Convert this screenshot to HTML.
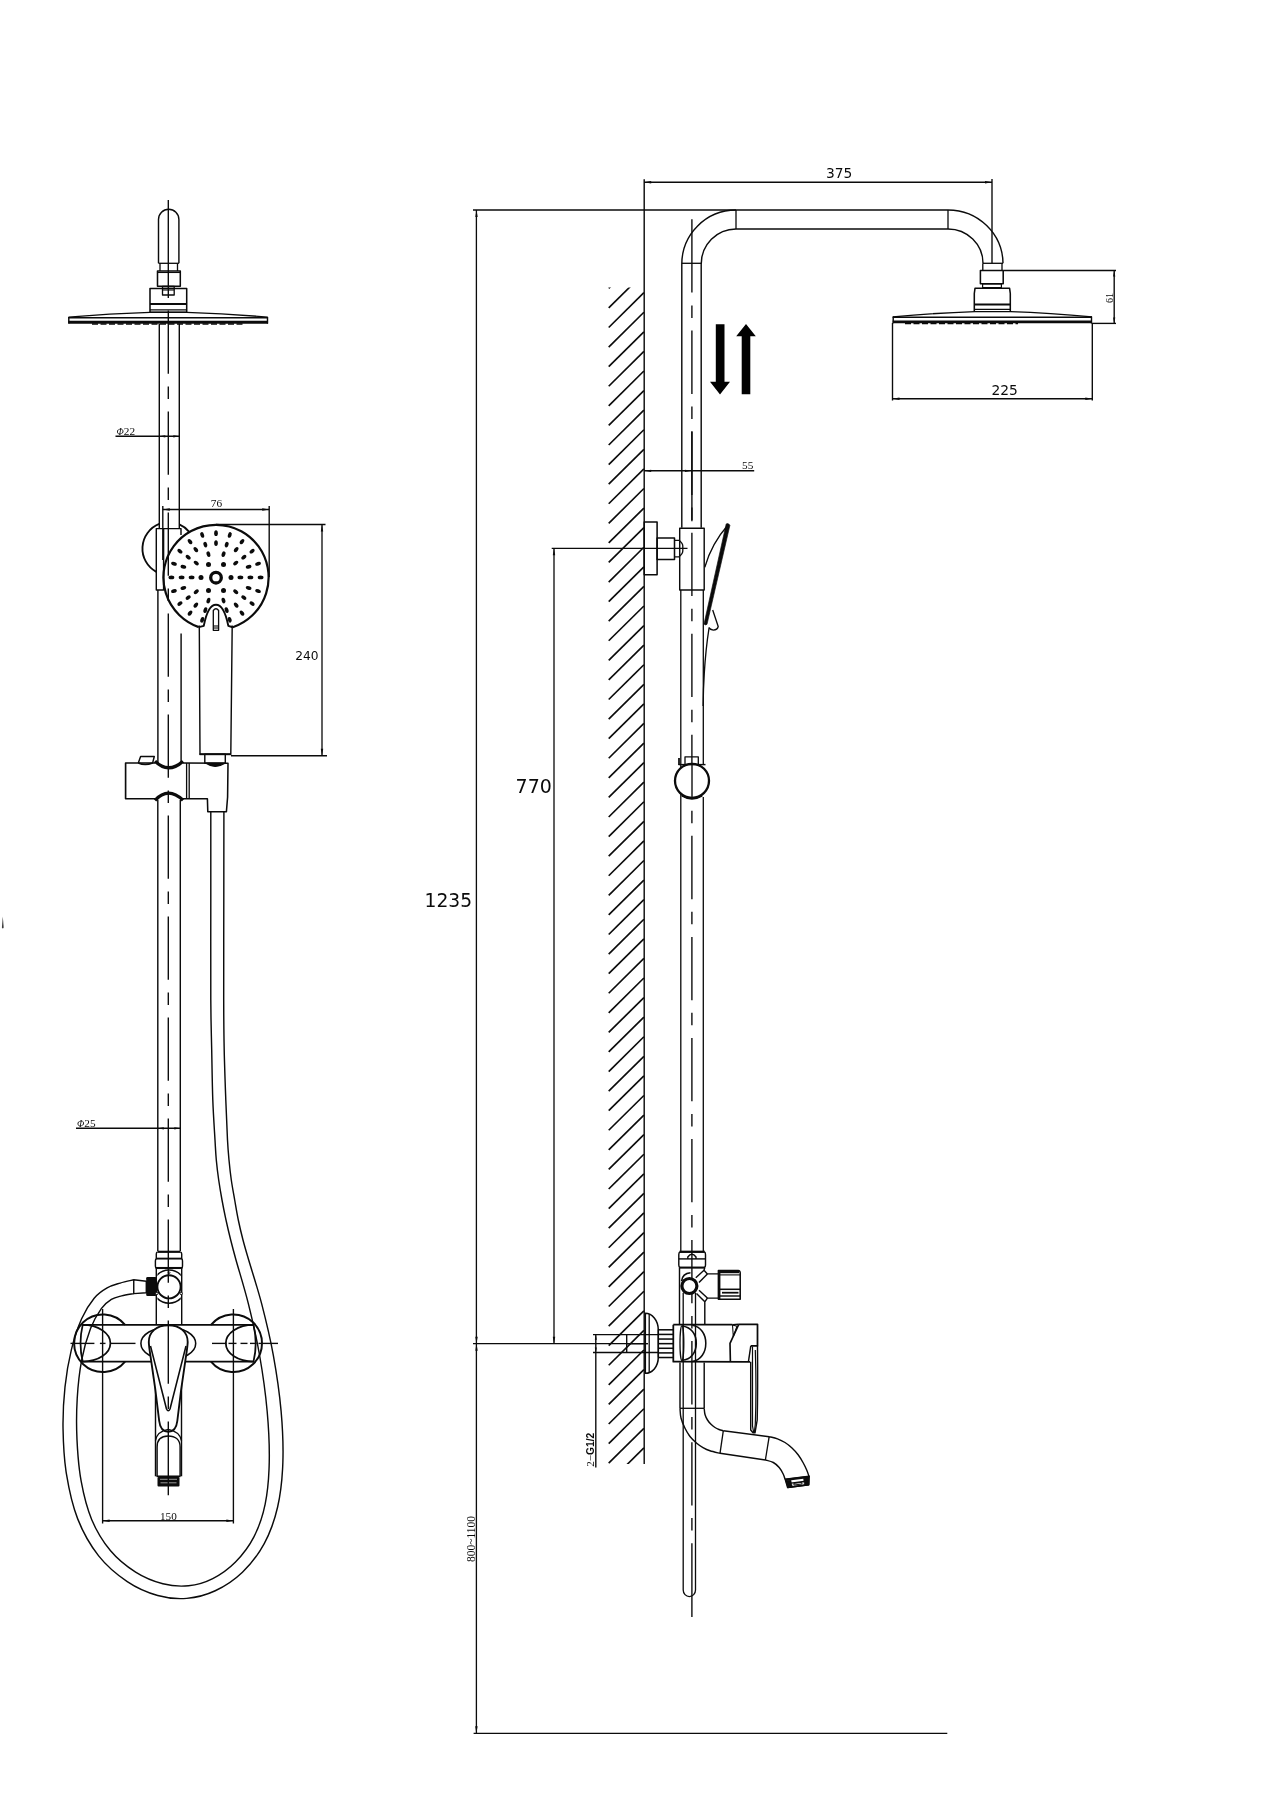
<!DOCTYPE html>
<html><head><meta charset="utf-8"><title>Shower column dimensions</title>
<style>html,body{margin:0;padding:0;background:#fff}svg{display:block}</style></head>
<body><svg width="1272" height="1800" viewBox="0 0 1272 1800" fill="none" stroke="#0b0b0b" stroke-linecap="butt" stroke-linejoin="round">
<rect x="0" y="0" width="1272" height="1800" fill="#fff" stroke="none"/>
<g opacity="0.999">
<path d="M158.5 263.3 L158.5 219.5 A10.2 10.2 0 0 1 178.9 219.5 L178.9 263.3" stroke-width="1.43" fill="none" />
<line x1="158.5" y1="263.3" x2="178.9" y2="263.3" stroke-width="1.32" />
<line x1="160" y1="263.3" x2="160" y2="271" stroke-width="1.32" />
<line x1="177.5" y1="263.3" x2="177.5" y2="271" stroke-width="1.32" />
<rect x="157.5" y="271" width="22.8" height="15.2" stroke-width="1.54" fill="none"/>
<line x1="157.5" y1="272.5" x2="180.3" y2="272.5" stroke-width="1.1" />
<rect x="162.5" y="286.5" width="11.7" height="8.5" stroke-width="1.32" fill="none"/>
<line x1="162.5" y1="290" x2="174.2" y2="290" stroke-width="1.1" />
<rect x="150" y="288.5" width="36.7" height="23.8" stroke-width="1.54" fill="none"/>
<line x1="150" y1="304" x2="186.7" y2="304" stroke-width="1.98" />
<line x1="150" y1="309.9" x2="186.7" y2="309.9" stroke-width="1.1" />
<path d="M68.5 317.2 Q110 313.5 150 312.3 L186.7 312.3 Q226 313.5 267.8 317.2" stroke-width="1.32" fill="none" />
<line x1="68.3" y1="317.7" x2="268" y2="317.7" stroke-width="1.54" />
<line x1="68.3" y1="322.3" x2="268" y2="322.3" stroke-width="2.86" />
<line x1="68.8" y1="317" x2="68.8" y2="323.6" stroke-width="1.43" />
<line x1="267.5" y1="317" x2="267.5" y2="323.6" stroke-width="1.43" />
<line x1="92" y1="324" x2="244" y2="324" stroke-width="1.32" stroke-dasharray="6 2.5"/>
<line x1="159.3" y1="324" x2="159.3" y2="528.6" stroke-width="1.43" />
<line x1="157.9" y1="590" x2="157.9" y2="763" stroke-width="1.43" />
<line x1="179.3" y1="324" x2="179.3" y2="528.6" stroke-width="1.43" />
<line x1="181.1" y1="633.5" x2="181.1" y2="762" stroke-width="1.43" />
<line x1="168.3" y1="200" x2="168.3" y2="298" stroke-width="1.38" />
<line x1="168.3" y1="310.5" x2="168.3" y2="373.8" stroke-width="1.38" />
<line x1="168.3" y1="386.45" x2="168.3" y2="398.95" stroke-width="1.38" />
<line x1="168.3" y1="411.5" x2="168.3" y2="474.8" stroke-width="1.38" />
<line x1="168.3" y1="487.45" x2="168.3" y2="499.95" stroke-width="1.38" />
<line x1="168.3" y1="512.5" x2="168.3" y2="575.8" stroke-width="1.38" />
<line x1="168.3" y1="588.45" x2="168.3" y2="600.95" stroke-width="1.38" />
<line x1="168.3" y1="613.5" x2="168.3" y2="676.8" stroke-width="1.38" />
<line x1="168.3" y1="689.45" x2="168.3" y2="701.95" stroke-width="1.38" />
<line x1="168.3" y1="714.5" x2="168.3" y2="777.8" stroke-width="1.38" />
<line x1="168.3" y1="790.45" x2="168.3" y2="802.95" stroke-width="1.38" />
<line x1="168.3" y1="815.5" x2="168.3" y2="878.8" stroke-width="1.38" />
<line x1="168.3" y1="891.45" x2="168.3" y2="903.95" stroke-width="1.38" />
<line x1="168.3" y1="916.5" x2="168.3" y2="979.8" stroke-width="1.38" />
<line x1="168.3" y1="992.45" x2="168.3" y2="1004.95" stroke-width="1.38" />
<line x1="168.3" y1="1017.5" x2="168.3" y2="1080.8" stroke-width="1.38" />
<line x1="168.3" y1="1093.45" x2="168.3" y2="1105.95" stroke-width="1.38" />
<line x1="168.3" y1="1118.5" x2="168.3" y2="1181.8" stroke-width="1.38" />
<line x1="168.3" y1="1194.45" x2="168.3" y2="1206.95" stroke-width="1.38" />
<line x1="168.3" y1="1219.5" x2="168.3" y2="1252" stroke-width="1.38" />
<line x1="115.5" y1="436.3" x2="179.3" y2="436.3" stroke-width="1.38" />
<path d="M159.3 436.3 L165.3 435.2 L165.3 437.4 Z" fill="#0b0b0b" stroke="none"/>
<path d="M179.3 436.3 L173.3 437.4 L173.3 435.2 Z" fill="#0b0b0b" stroke="none"/>
<text x="116.5" y="434.6" font-size="11.3" font-family='"Liberation Serif",serif' text-anchor="start" fill="#0b0b0b" stroke="none" ><tspan font-size="9.5" font-style="italic">Φ</tspan>22</text>
<line x1="162.8" y1="506" x2="162.8" y2="560" stroke-width="1.38" />
<line x1="269.2" y1="506" x2="269.2" y2="577" stroke-width="1.38" />
<line x1="162.8" y1="509.5" x2="269.2" y2="509.5" stroke-width="1.38" />
<path d="M162.8 509.5 L169.8 508.3 L169.8 510.7 Z" fill="#0b0b0b" stroke="none"/>
<path d="M269.2 509.5 L262.2 510.7 L262.2 508.3 Z" fill="#0b0b0b" stroke="none"/>
<text x="216.5" y="507.3" font-size="11.3" font-family='"Liberation Serif",serif' text-anchor="middle" fill="#0b0b0b" stroke="none" >76</text>
<path d="M159.3 523.99 A26.4 26.4 0 0 0 156.3 571.83" stroke-width="1.87" fill="none" />
<path d="M179.3 524.36 A26.4 26.4 0 0 1 189.2 531.78" stroke-width="1.87" fill="none" />
<rect x="156.3" y="528.6" width="7.3" height="61.4" stroke-width="1.43" fill="none"/>
<path d="M163.6 528.6 L181 528.6 L181 535" stroke-width="1.43" fill="none" />
<line x1="216" y1="524.5" x2="325.5" y2="524.5" stroke-width="1.32" />
<line x1="231" y1="755.8" x2="327" y2="755.8" stroke-width="1.38" />
<line x1="322" y1="524.5" x2="322" y2="755.8" stroke-width="1.32" />
<path d="M322 524.5 L323.2 531.5 L320.8 531.5 Z" fill="#0b0b0b" stroke="none"/>
<path d="M322 755.8 L320.8 748.8 L323.2 748.8 Z" fill="#0b0b0b" stroke="none"/>
<text x="295.3" y="659.6" font-size="12.2" font-family='"DejaVu Sans","Liberation Sans",sans-serif' text-anchor="start" fill="#0b0b0b" stroke="none" >240</text>
<path d="M198.78 627.1 A52.6 52.6 0 1 1 232.76 627.26" stroke-width="2.2" fill="none" />
<path d="M198.78 627.1 L203.8 625.8 C206.5 612 210 604.8 216 604.8 C222 604.8 225.5 612 228.3 625.8 L232.76 627.26" stroke-width="1.87" fill="none" />
<path d="M213.3 630.3 L213.3 610.5 Q216 607 218.6 610.5 L218.6 630.3 Z" stroke-width="1.32" fill="none" />
<line x1="213.3" y1="626" x2="218.6" y2="626" stroke-width="1.1" />
<line x1="213.3" y1="628" x2="218.6" y2="628" stroke-width="1.1" />
<circle cx="216" cy="577.7" r="5.3" stroke-width="3.3" fill="none"/>
<circle cx="231" cy="577.4" r="2.5" stroke-width="0" fill="#0b0b0b"/>
<circle cx="223.5" cy="590.39" r="2.5" stroke-width="0" fill="#0b0b0b"/>
<circle cx="208.5" cy="590.39" r="2.5" stroke-width="0" fill="#0b0b0b"/>
<circle cx="201" cy="577.4" r="2.5" stroke-width="0" fill="#0b0b0b"/>
<circle cx="208.5" cy="564.41" r="2.5" stroke-width="0" fill="#0b0b0b"/>
<circle cx="223.5" cy="564.41" r="2.5" stroke-width="0" fill="#0b0b0b"/>
<ellipse cx="240.4" cy="577.4" rx="2.9" ry="1.85" stroke-width="0" fill="#0b0b0b" transform="rotate(0 240.4 577.4)" stroke="none"/>
<ellipse cx="250.4" cy="577.4" rx="2.9" ry="1.85" stroke-width="0" fill="#0b0b0b" transform="rotate(0 250.4 577.4)" stroke="none"/>
<ellipse cx="260.6" cy="577.4" rx="2.9" ry="1.85" stroke-width="0" fill="#0b0b0b" transform="rotate(0 260.6 577.4)" stroke="none"/>
<ellipse cx="248.62" cy="588" rx="2.9" ry="1.85" stroke-width="0" fill="#0b0b0b" transform="rotate(18 248.62 588)" stroke="none"/>
<ellipse cx="258.04" cy="591.06" rx="2.9" ry="1.85" stroke-width="0" fill="#0b0b0b" transform="rotate(18 258.04 591.06)" stroke="none"/>
<ellipse cx="235.74" cy="591.74" rx="2.9" ry="1.85" stroke-width="0" fill="#0b0b0b" transform="rotate(36 235.74 591.74)" stroke="none"/>
<ellipse cx="243.83" cy="597.62" rx="2.9" ry="1.85" stroke-width="0" fill="#0b0b0b" transform="rotate(36 243.83 597.62)" stroke="none"/>
<ellipse cx="252.08" cy="603.62" rx="2.9" ry="1.85" stroke-width="0" fill="#0b0b0b" transform="rotate(36 252.08 603.62)" stroke="none"/>
<ellipse cx="236.16" cy="605.15" rx="2.9" ry="1.85" stroke-width="0" fill="#0b0b0b" transform="rotate(54 236.16 605.15)" stroke="none"/>
<ellipse cx="241.98" cy="613.16" rx="2.9" ry="1.85" stroke-width="0" fill="#0b0b0b" transform="rotate(54 241.98 613.16)" stroke="none"/>
<ellipse cx="223.54" cy="600.61" rx="2.9" ry="1.85" stroke-width="0" fill="#0b0b0b" transform="rotate(72 223.54 600.61)" stroke="none"/>
<ellipse cx="226.63" cy="610.12" rx="2.9" ry="1.85" stroke-width="0" fill="#0b0b0b" transform="rotate(72 226.63 610.12)" stroke="none"/>
<ellipse cx="229.78" cy="619.82" rx="2.9" ry="1.85" stroke-width="0" fill="#0b0b0b" transform="rotate(72 229.78 619.82)" stroke="none"/>
<ellipse cx="208.46" cy="600.61" rx="2.9" ry="1.85" stroke-width="0" fill="#0b0b0b" transform="rotate(108 208.46 600.61)" stroke="none"/>
<ellipse cx="205.37" cy="610.12" rx="2.9" ry="1.85" stroke-width="0" fill="#0b0b0b" transform="rotate(108 205.37 610.12)" stroke="none"/>
<ellipse cx="202.22" cy="619.82" rx="2.9" ry="1.85" stroke-width="0" fill="#0b0b0b" transform="rotate(108 202.22 619.82)" stroke="none"/>
<ellipse cx="195.84" cy="605.15" rx="2.9" ry="1.85" stroke-width="0" fill="#0b0b0b" transform="rotate(126 195.84 605.15)" stroke="none"/>
<ellipse cx="190.02" cy="613.16" rx="2.9" ry="1.85" stroke-width="0" fill="#0b0b0b" transform="rotate(126 190.02 613.16)" stroke="none"/>
<ellipse cx="196.26" cy="591.74" rx="2.9" ry="1.85" stroke-width="0" fill="#0b0b0b" transform="rotate(144 196.26 591.74)" stroke="none"/>
<ellipse cx="188.17" cy="597.62" rx="2.9" ry="1.85" stroke-width="0" fill="#0b0b0b" transform="rotate(144 188.17 597.62)" stroke="none"/>
<ellipse cx="179.92" cy="603.62" rx="2.9" ry="1.85" stroke-width="0" fill="#0b0b0b" transform="rotate(144 179.92 603.62)" stroke="none"/>
<ellipse cx="183.38" cy="588" rx="2.9" ry="1.85" stroke-width="0" fill="#0b0b0b" transform="rotate(162 183.38 588)" stroke="none"/>
<ellipse cx="173.96" cy="591.06" rx="2.9" ry="1.85" stroke-width="0" fill="#0b0b0b" transform="rotate(162 173.96 591.06)" stroke="none"/>
<ellipse cx="191.6" cy="577.4" rx="2.9" ry="1.85" stroke-width="0" fill="#0b0b0b" transform="rotate(180 191.6 577.4)" stroke="none"/>
<ellipse cx="181.6" cy="577.4" rx="2.9" ry="1.85" stroke-width="0" fill="#0b0b0b" transform="rotate(180 181.6 577.4)" stroke="none"/>
<ellipse cx="171.4" cy="577.4" rx="2.9" ry="1.85" stroke-width="0" fill="#0b0b0b" transform="rotate(180 171.4 577.4)" stroke="none"/>
<ellipse cx="183.38" cy="566.8" rx="2.9" ry="1.85" stroke-width="0" fill="#0b0b0b" transform="rotate(198 183.38 566.8)" stroke="none"/>
<ellipse cx="173.96" cy="563.74" rx="2.9" ry="1.85" stroke-width="0" fill="#0b0b0b" transform="rotate(198 173.96 563.74)" stroke="none"/>
<ellipse cx="196.26" cy="563.06" rx="2.9" ry="1.85" stroke-width="0" fill="#0b0b0b" transform="rotate(216 196.26 563.06)" stroke="none"/>
<ellipse cx="188.17" cy="557.18" rx="2.9" ry="1.85" stroke-width="0" fill="#0b0b0b" transform="rotate(216 188.17 557.18)" stroke="none"/>
<ellipse cx="179.92" cy="551.18" rx="2.9" ry="1.85" stroke-width="0" fill="#0b0b0b" transform="rotate(216 179.92 551.18)" stroke="none"/>
<ellipse cx="195.84" cy="549.65" rx="2.9" ry="1.85" stroke-width="0" fill="#0b0b0b" transform="rotate(234 195.84 549.65)" stroke="none"/>
<ellipse cx="190.02" cy="541.64" rx="2.9" ry="1.85" stroke-width="0" fill="#0b0b0b" transform="rotate(234 190.02 541.64)" stroke="none"/>
<ellipse cx="208.46" cy="554.19" rx="2.9" ry="1.85" stroke-width="0" fill="#0b0b0b" transform="rotate(252 208.46 554.19)" stroke="none"/>
<ellipse cx="205.37" cy="544.68" rx="2.9" ry="1.85" stroke-width="0" fill="#0b0b0b" transform="rotate(252 205.37 544.68)" stroke="none"/>
<ellipse cx="202.22" cy="534.98" rx="2.9" ry="1.85" stroke-width="0" fill="#0b0b0b" transform="rotate(252 202.22 534.98)" stroke="none"/>
<ellipse cx="216" cy="543.1" rx="2.9" ry="1.85" stroke-width="0" fill="#0b0b0b" transform="rotate(270 216 543.1)" stroke="none"/>
<ellipse cx="216" cy="533.2" rx="2.9" ry="1.85" stroke-width="0" fill="#0b0b0b" transform="rotate(270 216 533.2)" stroke="none"/>
<ellipse cx="223.54" cy="554.19" rx="2.9" ry="1.85" stroke-width="0" fill="#0b0b0b" transform="rotate(288 223.54 554.19)" stroke="none"/>
<ellipse cx="226.63" cy="544.68" rx="2.9" ry="1.85" stroke-width="0" fill="#0b0b0b" transform="rotate(288 226.63 544.68)" stroke="none"/>
<ellipse cx="229.78" cy="534.98" rx="2.9" ry="1.85" stroke-width="0" fill="#0b0b0b" transform="rotate(288 229.78 534.98)" stroke="none"/>
<ellipse cx="236.16" cy="549.65" rx="2.9" ry="1.85" stroke-width="0" fill="#0b0b0b" transform="rotate(306 236.16 549.65)" stroke="none"/>
<ellipse cx="241.98" cy="541.64" rx="2.9" ry="1.85" stroke-width="0" fill="#0b0b0b" transform="rotate(306 241.98 541.64)" stroke="none"/>
<ellipse cx="235.74" cy="563.06" rx="2.9" ry="1.85" stroke-width="0" fill="#0b0b0b" transform="rotate(324 235.74 563.06)" stroke="none"/>
<ellipse cx="243.83" cy="557.18" rx="2.9" ry="1.85" stroke-width="0" fill="#0b0b0b" transform="rotate(324 243.83 557.18)" stroke="none"/>
<ellipse cx="252.08" cy="551.18" rx="2.9" ry="1.85" stroke-width="0" fill="#0b0b0b" transform="rotate(324 252.08 551.18)" stroke="none"/>
<ellipse cx="248.62" cy="566.8" rx="2.9" ry="1.85" stroke-width="0" fill="#0b0b0b" transform="rotate(342 248.62 566.8)" stroke="none"/>
<ellipse cx="258.04" cy="563.74" rx="2.9" ry="1.85" stroke-width="0" fill="#0b0b0b" transform="rotate(342 258.04 563.74)" stroke="none"/>
<path d="M199.3 625.6 L200 754.4 L230.8 754.4 L232.2 625.6" stroke-width="1.43" fill="none" />
<line x1="199.6" y1="754.2" x2="231" y2="754.2" stroke-width="1.98" />
<rect x="204.8" y="754.2" width="20.5" height="9" stroke-width="1.43" fill="none"/>
<path d="M206 763.3 Q215 769.5 225 763.3 Z" stroke-width="1.32" fill="#0b0b0b" />
<path d="M155.5 763 L125.6 763 L125.6 798.7 L155.5 798.7" stroke-width="1.65" fill="none" />
<path d="M182.6 763 L228 763.3 L227.6 797 L226.4 811.8 L207.8 811.8 L207.4 798.7 L182.6 798.7" stroke-width="1.54" fill="none" />
<line x1="186.6" y1="763" x2="186.6" y2="798.7" stroke-width="1.32" />
<line x1="189.2" y1="763" x2="189.2" y2="798.7" stroke-width="1.32" />
<path d="M138.3 763 L140.6 756.5 L154.3 756.5 L152.6 763 Q145 766 138.3 763" stroke-width="1.43" fill="none" />
<path d="M155 761.2 Q168.3 774.5 183 761.2" stroke-width="3.3" fill="none" />
<path d="M155 800.3 Q168.3 786 183 800.3" stroke-width="3.3" fill="none" />
<line x1="157.8" y1="800" x2="157.8" y2="1251" stroke-width="1.43" />
<line x1="180.3" y1="800" x2="180.3" y2="1251" stroke-width="1.43" />
<line x1="76" y1="1128.3" x2="180.3" y2="1128.3" stroke-width="1.38" />
<path d="M157.8 1128.3 L163.8 1127.2 L163.8 1129.4 Z" fill="#0b0b0b" stroke="none"/>
<path d="M180.3 1128.3 L174.3 1129.4 L174.3 1127.2 Z" fill="#0b0b0b" stroke="none"/>
<text x="77" y="1126.6" font-size="11.3" font-family='"Liberation Serif",serif' text-anchor="start" fill="#0b0b0b" stroke="none" ><tspan font-size="9.5" font-style="italic">Φ</tspan>25</text>
<path d="M223.9 812 C223.88 826.67 223.83 868.67 223.8 900 C223.77 931.33 223.63 975 223.7 1000 C223.77 1025 223.85 1033.33 224.2 1050 C224.55 1066.67 225.25 1085 225.8 1100 C226.35 1115 226.97 1130 227.5 1140 C228.03 1150 228.37 1153.33 229 1160 C229.63 1166.67 230.35 1173.33 231.3 1180 C232.25 1186.67 233.53 1193.33 234.7 1200 C235.87 1206.67 236.92 1213.33 238.3 1220 C239.68 1226.67 241.27 1233.33 243 1240 C244.73 1246.67 245.59 1249.39 248.7 1260 C251.81 1270.61 257.53 1287.83 261.63 1303.68 C265.73 1319.54 270.05 1337.27 273.3 1355.14 C276.54 1373.02 279.49 1392.99 281.08 1410.93 C282.67 1428.87 283.43 1446.78 282.85 1462.8 C282.28 1478.81 280.72 1493.55 277.62 1507.02 C274.52 1520.5 270.09 1532.8 264.23 1543.66 C258.37 1554.53 250.62 1564.36 242.45 1572.21 C234.29 1580.06 224.53 1586.39 215.25 1590.75 C205.97 1595.1 196.35 1597.58 186.76 1598.36 C177.17 1599.15 167.64 1598.25 157.72 1595.45 C147.8 1592.65 137.09 1588.15 127.25 1581.54 C117.4 1574.94 106.91 1566.27 98.65 1555.83 C90.39 1545.38 83.05 1532.48 77.69 1518.88 C72.33 1505.28 68.92 1489.24 66.47 1474.21 C64.03 1459.18 63.29 1443.21 63.04 1428.7 C62.79 1414.2 63.59 1400.32 64.98 1387.18 C66.36 1374.04 68.56 1361.25 71.34 1349.84 C74.11 1338.43 77.81 1327.34 81.62 1318.73 C85.42 1310.12 89.91 1303.33 94.16 1298.19 C98.41 1293.05 102.78 1290.42 107.12 1287.9 C111.46 1285.39 115.76 1284.43 120.2 1283.08 C124.64 1281.73 131.49 1280.35 133.75 1279.8" stroke-width="1.43" fill="none" />
<path d="M210.8 812 C210.8 826.67 210.8 868.67 210.8 900 C210.8 931.33 210.65 975 210.8 1000 C210.95 1025 211.37 1033.33 211.7 1050 C212.03 1066.67 212.25 1085 212.8 1100 C213.35 1115 214.42 1130 215 1140 C215.58 1150 215.68 1153.33 216.3 1160 C216.92 1166.67 217.75 1173.33 218.7 1180 C219.65 1186.67 220.78 1193.33 222 1200 C223.22 1206.67 224.55 1213.33 226 1220 C227.45 1226.67 229.03 1233.33 230.7 1240 C232.37 1246.67 233.06 1249.39 236 1260 C238.94 1270.61 244.41 1287.8 248.34 1303.67 C252.27 1319.55 256.43 1337.33 259.57 1355.25 C262.71 1373.17 265.55 1393.35 267.16 1411.21 C268.77 1429.06 269.58 1446.91 269.24 1462.38 C268.91 1477.85 267.72 1491.64 265.17 1504.04 C262.62 1516.45 258.87 1527.17 253.92 1536.82 C248.98 1546.47 242.36 1554.98 235.5 1561.93 C228.64 1568.88 220.57 1574.56 212.75 1578.54 C204.93 1582.51 196.88 1584.91 188.56 1585.78 C180.25 1586.65 171.7 1586.04 162.87 1583.76 C154.04 1581.48 144.35 1577.64 135.6 1572.1 C126.84 1566.56 117.65 1559.25 110.35 1550.51 C103.04 1541.78 96.61 1531.21 91.75 1519.7 C86.9 1508.19 83.66 1494.8 81.2 1481.46 C78.74 1468.12 77.65 1453.51 76.99 1439.65 C76.33 1425.79 76.44 1411.57 77.23 1398.28 C78.02 1384.99 79.51 1371.54 81.72 1359.91 C83.94 1348.29 87.26 1337.08 90.53 1328.52 C93.79 1319.97 97.83 1313.42 101.31 1308.58 C104.78 1303.73 107.99 1301.56 111.37 1299.44 C114.76 1297.32 117.89 1296.83 121.62 1295.85 C125.34 1294.88 131.73 1293.98 133.75 1293.6" stroke-width="1.43" fill="none" />
<path d="M133.75 1279.8 L146.3 1281.2 L146.3 1292.8 L133.75 1293.6 Z" stroke-width="1.43" fill="none" />
<rect x="146.2" y="1276.9" width="10.2" height="19.2" rx="1.3" fill="#0b0b0b" stroke="none"/>
<line x1="157.6" y1="1251.8" x2="180.3" y2="1251.8" stroke-width="2.2" />
<path d="M157.6 1251.8 Q156.3 1252.3 156.3 1254 L156.3 1258.5 M180.3 1251.8 Q181.7 1252.3 181.7 1254 L181.7 1258.5" stroke-width="1.43" fill="none" />
<line x1="156" y1="1258.6" x2="182" y2="1258.6" stroke-width="1.87" />
<path d="M156.3 1258.6 Q155.4 1259.2 155.4 1261 L155.4 1266 Q155.4 1267.6 156.3 1268 M181.7 1258.6 Q182.5 1259.2 182.5 1261 L182.5 1266 Q182.5 1267.6 181.7 1268" stroke-width="1.43" fill="none" />
<line x1="155.8" y1="1268" x2="182.2" y2="1268" stroke-width="2.09" />
<line x1="156.3" y1="1268" x2="156.3" y2="1324.5" stroke-width="1.43" />
<line x1="181.7" y1="1268" x2="181.7" y2="1324.5" stroke-width="1.43" />
<clipPath id="kc"><rect x="157.4" y="1266" width="23.4" height="42"/></clipPath>
<g clip-path="url(#kc)">
<circle cx="169" cy="1286.6" r="16.6" stroke-width="1.54" fill="none"/>
</g>
<circle cx="169" cy="1286.8" r="11.6" stroke-width="1.87" fill="none"/>
<circle cx="156.8" cy="1293.5" r="1.2" stroke-width="0.99" fill="#fff"/>
<circle cx="181.2" cy="1293.5" r="1.2" stroke-width="0.99" fill="#fff"/>
<circle cx="169.1" cy="1272.7" r="0.9" stroke-width="0.88" fill="#fff"/>
<line x1="82.7" y1="1324.9" x2="253.5" y2="1324.9" stroke-width="1.65" />
<line x1="82.7" y1="1361.6" x2="253.5" y2="1361.6" stroke-width="1.65" />
<path d="M82.7 1324.9 C98 1324.9 110.4 1333 110.4 1343.3 C110.4 1353.6 98 1361.6 82.7 1361.6 Q78.3 1343.3 82.7 1324.9 Z" stroke-width="1.76" fill="none" />
<path d="M253.5 1324.9 C238.2 1324.9 225.8 1333 225.8 1343.3 C225.8 1353.6 238.2 1361.6 253.5 1361.6 Q257.9 1343.3 253.5 1324.9 Z" stroke-width="1.76" fill="none" />
<path d="M125.1 1324.9 A28.8 28.8 0 1 0 125.1 1361.6" stroke-width="1.98" fill="none" />
<path d="M211 1324.9 A28.8 28.8 0 1 1 211 1361.6" stroke-width="1.98" fill="none" />
<line x1="70.5" y1="1343.4" x2="94.4" y2="1343.4" stroke-width="1.38" />
<line x1="99.9" y1="1343.4" x2="105.5" y2="1343.4" stroke-width="1.38" />
<line x1="111" y1="1343.4" x2="135.5" y2="1343.4" stroke-width="1.38" />
<line x1="212" y1="1343.4" x2="226.5" y2="1343.4" stroke-width="1.38" />
<line x1="228.5" y1="1343.4" x2="236.5" y2="1343.4" stroke-width="1.38" />
<line x1="240.5" y1="1343.4" x2="247.5" y2="1343.4" stroke-width="1.38" />
<line x1="250" y1="1343.4" x2="256.5" y2="1343.4" stroke-width="1.38" />
<line x1="258.5" y1="1343.4" x2="278" y2="1343.4" stroke-width="1.38" />
<line x1="102.6" y1="1309" x2="102.6" y2="1523.5" stroke-width="1.38" />
<line x1="233.4" y1="1309" x2="233.4" y2="1523.5" stroke-width="1.38" />
<line x1="102.6" y1="1520.8" x2="233.4" y2="1520.8" stroke-width="1.38" />
<path d="M102.6 1520.8 L109.6 1519.6 L109.6 1522 Z" fill="#0b0b0b" stroke="none"/>
<path d="M233.4 1520.8 L226.4 1522 L226.4 1519.6 Z" fill="#0b0b0b" stroke="none"/>
<text x="168.4" y="1519.6" font-size="11.2" font-family='"Liberation Serif",serif' text-anchor="middle" fill="#0b0b0b" stroke="none" >150</text>
<ellipse cx="168.3" cy="1343.5" rx="27.4" ry="16.3" stroke-width="1.54" fill="none"/>
<line x1="155.5" y1="1362" x2="155.5" y2="1476.3" stroke-width="1.43" />
<line x1="181.5" y1="1362" x2="181.5" y2="1476.3" stroke-width="1.43" />
<path d="M168.3 1325.2 C180 1325.2 187.7 1332 187.7 1342 C187.7 1350 183.5 1366 177.3 1421 C176.5 1428 173 1431.8 168.3 1431.8 C163.5 1431.8 160 1428 159.2 1421 C153 1366 148.8 1350 148.8 1342 C148.8 1332 156.5 1325.2 168.3 1325.2 Z" stroke-width="1.87" fill="#fff" />
<path d="M150.5 1346 L166.5 1409 Q168.3 1412.5 170 1409 L186 1346" stroke-width="1.54" fill="none" />
<path d="M155.5 1440.5 Q157 1431.5 168.2 1429.4 Q179.5 1431.5 181.5 1440.5" stroke-width="1.43" fill="none" />
<path d="M157.1 1476 L157.1 1447 C157.1 1440 161 1436 168.2 1436 C175.5 1436 180.1 1440 180.1 1447 L180.1 1476" stroke-width="1.43" fill="none" />
<line x1="156.4" y1="1476.3" x2="180.6" y2="1476.3" stroke-width="1.65" />
<rect x="157.5" y="1477" width="22" height="9.4" rx="1" fill="#0b0b0b" stroke="none"/>
<path d="M160 1479.3 L177 1479.3 M160.5 1482.8 L176.5 1482.8" stroke="#bbb" stroke-width="0.8"/>
<line x1="168.3" y1="1252" x2="168.3" y2="1282.8" stroke-width="1.38" />
<line x1="168.3" y1="1295.45" x2="168.3" y2="1307.95" stroke-width="1.38" />
<line x1="168.3" y1="1320.5" x2="168.3" y2="1383.8" stroke-width="1.38" />
<line x1="168.3" y1="1396.45" x2="168.3" y2="1408.95" stroke-width="1.38" />
<line x1="168.3" y1="1421.5" x2="168.3" y2="1495.3" stroke-width="1.38" />
<path d="M2.8 916.5 L3.7 927.5 Q2.8 929.6 1.9 927.5 Z" fill="#3a3a3a" stroke="none"/>
<clipPath id="hc"><rect x="607.6" y="287.5" width="37" height="1176.5"/></clipPath>
<g clip-path="url(#hc)">
<line x1="608.7" y1="288.34" x2="643.9" y2="253.54" stroke-width="1.65" />
<line x1="608.7" y1="307.92" x2="643.9" y2="273.12" stroke-width="1.65" />
<line x1="608.7" y1="327.5" x2="643.9" y2="292.7" stroke-width="1.65" />
<line x1="608.7" y1="347.08" x2="643.9" y2="312.28" stroke-width="1.65" />
<line x1="608.7" y1="366.66" x2="643.9" y2="331.86" stroke-width="1.65" />
<line x1="608.7" y1="386.24" x2="643.9" y2="351.44" stroke-width="1.65" />
<line x1="608.7" y1="405.82" x2="643.9" y2="371.02" stroke-width="1.65" />
<line x1="608.7" y1="425.4" x2="643.9" y2="390.6" stroke-width="1.65" />
<line x1="608.7" y1="444.98" x2="643.9" y2="410.18" stroke-width="1.65" />
<line x1="608.7" y1="464.56" x2="643.9" y2="429.76" stroke-width="1.65" />
<line x1="608.7" y1="484.14" x2="643.9" y2="449.34" stroke-width="1.65" />
<line x1="608.7" y1="503.72" x2="643.9" y2="468.92" stroke-width="1.65" />
<line x1="608.7" y1="523.3" x2="643.9" y2="488.5" stroke-width="1.65" />
<line x1="608.7" y1="542.88" x2="643.9" y2="508.08" stroke-width="1.65" />
<line x1="608.7" y1="562.46" x2="643.9" y2="527.66" stroke-width="1.65" />
<line x1="608.7" y1="582.04" x2="643.9" y2="547.24" stroke-width="1.65" />
<line x1="608.7" y1="601.62" x2="643.9" y2="566.82" stroke-width="1.65" />
<line x1="608.7" y1="621.2" x2="643.9" y2="586.4" stroke-width="1.65" />
<line x1="608.7" y1="640.78" x2="643.9" y2="605.98" stroke-width="1.65" />
<line x1="608.7" y1="660.36" x2="643.9" y2="625.56" stroke-width="1.65" />
<line x1="608.7" y1="679.94" x2="643.9" y2="645.14" stroke-width="1.65" />
<line x1="608.7" y1="699.52" x2="643.9" y2="664.72" stroke-width="1.65" />
<line x1="608.7" y1="719.1" x2="643.9" y2="684.3" stroke-width="1.65" />
<line x1="608.7" y1="738.68" x2="643.9" y2="703.88" stroke-width="1.65" />
<line x1="608.7" y1="758.26" x2="643.9" y2="723.46" stroke-width="1.65" />
<line x1="608.7" y1="777.84" x2="643.9" y2="743.04" stroke-width="1.65" />
<line x1="608.7" y1="797.42" x2="643.9" y2="762.62" stroke-width="1.65" />
<line x1="608.7" y1="817" x2="643.9" y2="782.2" stroke-width="1.65" />
<line x1="608.7" y1="836.58" x2="643.9" y2="801.78" stroke-width="1.65" />
<line x1="608.7" y1="856.16" x2="643.9" y2="821.36" stroke-width="1.65" />
<line x1="608.7" y1="875.74" x2="643.9" y2="840.94" stroke-width="1.65" />
<line x1="608.7" y1="895.32" x2="643.9" y2="860.52" stroke-width="1.65" />
<line x1="608.7" y1="914.9" x2="643.9" y2="880.1" stroke-width="1.65" />
<line x1="608.7" y1="934.48" x2="643.9" y2="899.68" stroke-width="1.65" />
<line x1="608.7" y1="954.06" x2="643.9" y2="919.26" stroke-width="1.65" />
<line x1="608.7" y1="973.64" x2="643.9" y2="938.84" stroke-width="1.65" />
<line x1="608.7" y1="993.22" x2="643.9" y2="958.42" stroke-width="1.65" />
<line x1="608.7" y1="1012.8" x2="643.9" y2="978" stroke-width="1.65" />
<line x1="608.7" y1="1032.38" x2="643.9" y2="997.58" stroke-width="1.65" />
<line x1="608.7" y1="1051.96" x2="643.9" y2="1017.16" stroke-width="1.65" />
<line x1="608.7" y1="1071.54" x2="643.9" y2="1036.74" stroke-width="1.65" />
<line x1="608.7" y1="1091.12" x2="643.9" y2="1056.32" stroke-width="1.65" />
<line x1="608.7" y1="1110.7" x2="643.9" y2="1075.9" stroke-width="1.65" />
<line x1="608.7" y1="1130.28" x2="643.9" y2="1095.48" stroke-width="1.65" />
<line x1="608.7" y1="1149.86" x2="643.9" y2="1115.06" stroke-width="1.65" />
<line x1="608.7" y1="1169.44" x2="643.9" y2="1134.64" stroke-width="1.65" />
<line x1="608.7" y1="1189.02" x2="643.9" y2="1154.22" stroke-width="1.65" />
<line x1="608.7" y1="1208.6" x2="643.9" y2="1173.8" stroke-width="1.65" />
<line x1="608.7" y1="1228.18" x2="643.9" y2="1193.38" stroke-width="1.65" />
<line x1="608.7" y1="1247.76" x2="643.9" y2="1212.96" stroke-width="1.65" />
<line x1="608.7" y1="1267.34" x2="643.9" y2="1232.54" stroke-width="1.65" />
<line x1="608.7" y1="1286.92" x2="643.9" y2="1252.12" stroke-width="1.65" />
<line x1="608.7" y1="1306.5" x2="643.9" y2="1271.7" stroke-width="1.65" />
<line x1="608.7" y1="1326.08" x2="643.9" y2="1291.28" stroke-width="1.65" />
<line x1="608.7" y1="1345.66" x2="643.9" y2="1310.86" stroke-width="1.65" />
<line x1="608.7" y1="1365.24" x2="643.9" y2="1330.44" stroke-width="1.65" />
<line x1="608.7" y1="1384.82" x2="643.9" y2="1350.02" stroke-width="1.65" />
<line x1="608.7" y1="1404.4" x2="643.9" y2="1369.6" stroke-width="1.65" />
<line x1="608.7" y1="1423.98" x2="643.9" y2="1389.18" stroke-width="1.65" />
<line x1="608.7" y1="1443.56" x2="643.9" y2="1408.76" stroke-width="1.65" />
<line x1="608.7" y1="1463.14" x2="643.9" y2="1428.34" stroke-width="1.65" />
<line x1="608.7" y1="1482.72" x2="643.9" y2="1447.92" stroke-width="1.65" />
</g>
<line x1="644.2" y1="179.3" x2="644.2" y2="1464" stroke-width="1.43" />
<line x1="644.2" y1="182.3" x2="992" y2="182.3" stroke-width="1.38" />
<line x1="992" y1="179" x2="992" y2="263.3" stroke-width="1.38" />
<path d="M644.2 182.3 L651.2 181.1 L651.2 183.5 Z" fill="#0b0b0b" stroke="none"/>
<path d="M992 182.3 L985 183.5 L985 181.1 Z" fill="#0b0b0b" stroke="none"/>
<text x="826" y="177.5" font-size="13.8" font-family='"DejaVu Sans","Liberation Sans",sans-serif' text-anchor="start" fill="#0b0b0b" stroke="none" >375</text>
<line x1="473" y1="210" x2="736" y2="210" stroke-width="1.32" />
<line x1="476.4" y1="210" x2="476.4" y2="1733.3" stroke-width="1.32" />
<path d="M476.5 210 L477.7 217 L475.3 217 Z" fill="#0b0b0b" stroke="none"/>
<path d="M476.5 1343.7 L475.3 1336.7 L477.7 1336.7 Z" fill="#0b0b0b" stroke="none"/>
<path d="M476.5 1343.7 L477.7 1350.7 L475.3 1350.7 Z" fill="#0b0b0b" stroke="none"/>
<path d="M476.4 1733.3 L475.2 1726.3 L477.6 1726.3 Z" fill="#0b0b0b" stroke="none"/>
<text x="424.5" y="906.7" font-size="18.7" font-family='"DejaVu Sans","Liberation Sans",sans-serif' text-anchor="start" fill="#0b0b0b" stroke="none" >1235</text>
<line x1="473.6" y1="1733.3" x2="947.3" y2="1733.3" stroke-width="1.32" />
<path d="M681.8 527.8 L681.8 264.3 A54.2 54.2 0 0 1 736 210 L948 210 A55 54 0 0 1 1003 263.3" stroke-width="1.43" fill="none" />
<path d="M701.2 527.8 L701.2 264.3 A34.8 35.2 0 0 1 736 229 L948 229 A35 34.3 0 0 1 983 263.3" stroke-width="1.43" fill="none" />
<line x1="736" y1="210" x2="736" y2="229" stroke-width="1.32" />
<line x1="681.8" y1="263.3" x2="701.2" y2="263.3" stroke-width="1.32" />
<line x1="948" y1="210" x2="948" y2="229" stroke-width="1.32" />
<line x1="983" y1="263.3" x2="1003" y2="263.3" stroke-width="1.32" />
<line x1="982.8" y1="263.3" x2="982.8" y2="270.6" stroke-width="1.32" />
<line x1="1002" y1="263.3" x2="1002" y2="270.6" stroke-width="1.32" />
<rect x="980.4" y="270.6" width="22.8" height="13.2" stroke-width="1.54" fill="none"/>
<rect x="982.6" y="283.8" width="18.8" height="3.8" stroke-width="1.21" fill="none"/>
<path d="M974.3 311.5 L974.3 293.5 L975 288.3 L1009.6 288.3 L1010.3 293.5 L1010.3 311.5" stroke-width="1.54" fill="none" />
<line x1="974.3" y1="304.4" x2="1010.3" y2="304.4" stroke-width="1.98" />
<line x1="974.3" y1="309.4" x2="1010.3" y2="309.4" stroke-width="1.1" />
<path d="M893 316.8 Q935 313 975 311.6 L1010.6 311.6 Q1050 313 1092 316.8" stroke-width="1.32" fill="none" />
<line x1="892.7" y1="317.2" x2="1092" y2="317.2" stroke-width="1.54" />
<line x1="892.7" y1="321.9" x2="1092" y2="321.9" stroke-width="2.86" />
<line x1="893.2" y1="316.6" x2="893.2" y2="323.3" stroke-width="1.43" />
<line x1="1091.5" y1="316.6" x2="1091.5" y2="323.3" stroke-width="1.43" />
<line x1="905" y1="323.7" x2="1018" y2="323.7" stroke-width="1.32" stroke-dasharray="6 2.5"/>
<line x1="1003.5" y1="270.5" x2="1116" y2="270.5" stroke-width="1.38" />
<line x1="1091.7" y1="323.4" x2="1116" y2="323.4" stroke-width="1.38" />
<line x1="1114.2" y1="270.6" x2="1114.2" y2="323.4" stroke-width="1.38" />
<path d="M1114.2 270.6 L1115.3 276.6 L1113.1 276.6 Z" fill="#0b0b0b" stroke="none"/>
<path d="M1114.2 323.4 L1113.1 317.4 L1115.3 317.4 Z" fill="#0b0b0b" stroke="none"/>
<text x="1112.8" y="298" font-size="11" font-family='"Liberation Serif",serif' text-anchor="middle" fill="#0b0b0b" stroke="none" transform="rotate(-90 1112.8 298)" textLength="10" lengthAdjust="spacingAndGlyphs">61</text>
<line x1="892.5" y1="323" x2="892.5" y2="400.5" stroke-width="1.38" />
<line x1="1092.3" y1="323" x2="1092.3" y2="400.5" stroke-width="1.38" />
<line x1="892.5" y1="398.8" x2="1092.3" y2="398.8" stroke-width="1.38" />
<path d="M892.5 398.8 L899.5 397.6 L899.5 400 Z" fill="#0b0b0b" stroke="none"/>
<path d="M1092.3 398.8 L1085.3 400 L1085.3 397.6 Z" fill="#0b0b0b" stroke="none"/>
<text x="991.5" y="394.8" font-size="13.8" font-family='"DejaVu Sans","Liberation Sans",sans-serif' text-anchor="start" fill="#0b0b0b" stroke="none" >225</text>
<path d="M715.8 324.2 L724.5 324.2 L724.5 381.7 L730 381.7 L720 394.4 L710 381.7 L715.8 381.7 Z" stroke-width="0" fill="#000" stroke="none"/>
<path d="M741.7 394.2 L750.3 394.2 L750.3 336.3 L755.8 336.3 L746 324 L736.2 336.3 L741.7 336.3 Z" stroke-width="0" fill="#000" stroke="none"/>
<line x1="691.9" y1="219.3" x2="691.9" y2="292.5" stroke-width="1.38" />
<line x1="691.9" y1="431.3" x2="691.9" y2="521.2" stroke-width="1.38" />
<line x1="691.9" y1="305.5" x2="691.9" y2="318" stroke-width="1.38" />
<line x1="691.9" y1="330.6" x2="691.9" y2="393.9" stroke-width="1.38" />
<line x1="691.9" y1="406.55" x2="691.9" y2="419.05" stroke-width="1.38" />
<line x1="691.9" y1="431.65" x2="691.9" y2="494.95" stroke-width="1.38" />
<line x1="691.9" y1="507.6" x2="691.9" y2="520.1" stroke-width="1.38" />
<line x1="691.9" y1="532.7" x2="691.9" y2="596" stroke-width="1.38" />
<line x1="691.9" y1="608.65" x2="691.9" y2="621.15" stroke-width="1.38" />
<line x1="691.9" y1="633.75" x2="691.9" y2="697.05" stroke-width="1.38" />
<line x1="691.9" y1="709.7" x2="691.9" y2="722.2" stroke-width="1.38" />
<line x1="691.9" y1="734.8" x2="691.9" y2="798.1" stroke-width="1.38" />
<line x1="691.9" y1="810.75" x2="691.9" y2="823.25" stroke-width="1.38" />
<line x1="691.9" y1="835.85" x2="691.9" y2="899.15" stroke-width="1.38" />
<line x1="691.9" y1="911.8" x2="691.9" y2="924.3" stroke-width="1.38" />
<line x1="691.9" y1="936.9" x2="691.9" y2="1000.2" stroke-width="1.38" />
<line x1="691.9" y1="1012.85" x2="691.9" y2="1025.35" stroke-width="1.38" />
<line x1="691.9" y1="1037.95" x2="691.9" y2="1101.25" stroke-width="1.38" />
<line x1="691.9" y1="1113.9" x2="691.9" y2="1126.4" stroke-width="1.38" />
<line x1="691.9" y1="1139" x2="691.9" y2="1202.3" stroke-width="1.38" />
<line x1="691.9" y1="1214.95" x2="691.9" y2="1227.45" stroke-width="1.38" />
<line x1="691.9" y1="1240.05" x2="691.9" y2="1303.35" stroke-width="1.38" />
<line x1="691.9" y1="1316" x2="691.9" y2="1328.5" stroke-width="1.38" />
<line x1="691.9" y1="1341.1" x2="691.9" y2="1404.4" stroke-width="1.38" />
<line x1="691.9" y1="1417.05" x2="691.9" y2="1429.55" stroke-width="1.38" />
<line x1="691.9" y1="1442.15" x2="691.9" y2="1505.45" stroke-width="1.38" />
<line x1="691.9" y1="1518.1" x2="691.9" y2="1530.6" stroke-width="1.38" />
<line x1="691.9" y1="1543.2" x2="691.9" y2="1617" stroke-width="1.38" />
<line x1="644.2" y1="470.8" x2="754.2" y2="470.8" stroke-width="1.38" />
<path d="M644.2 470.8 L651.2 469.7 L651.2 471.9 Z" fill="#0b0b0b" stroke="none"/>
<path d="M691.9 470.8 L684.9 471.9 L684.9 469.7 Z" fill="#0b0b0b" stroke="none"/>
<text x="742" y="469.2" font-size="11.3" font-family='"Liberation Serif",serif' text-anchor="start" fill="#0b0b0b" stroke="none" >55</text>
<rect x="644.2" y="522" width="12.9" height="52.8" stroke-width="1.54" fill="none"/>
<rect x="657.1" y="538.1" width="17.4" height="21.4" stroke-width="1.54" fill="none"/>
<path d="M674.5 540.3 L679.1 540.3 Q682.8 543.5 682.8 546 L682.8 551 Q682.8 553.5 679.1 556.8 L674.5 556.8" stroke-width="1.32" fill="none" />
<line x1="551.7" y1="548.3" x2="687.5" y2="548.3" stroke-width="1.32" />
<line x1="554" y1="548.3" x2="554" y2="1343.7" stroke-width="1.32" />
<path d="M554 548.3 L555.2 555.3 L552.8 555.3 Z" fill="#0b0b0b" stroke="none"/>
<path d="M554 1343.7 L552.8 1336.7 L555.2 1336.7 Z" fill="#0b0b0b" stroke="none"/>
<text x="515.6" y="793" font-size="19" font-family='"DejaVu Sans","Liberation Sans",sans-serif' text-anchor="start" fill="#0b0b0b" stroke="none" >770</text>
<rect x="679.7" y="528.2" width="24.5" height="61.8" stroke-width="1.43" fill="none"/>
<line x1="680.8" y1="590" x2="680.8" y2="1251" stroke-width="1.32" />
<line x1="703.3" y1="705" x2="703.3" y2="764" stroke-width="1.32" />
<line x1="703.3" y1="797" x2="703.3" y2="1251" stroke-width="1.32" />
<path d="M728 525 C720 534 710 549 704.8 567.2" stroke-width="1.32" fill="none" />
<path d="M726.2 523.9 Q728.6 522.8 729.9 525.3 L707 624.3 Q705.6 625.6 704 624 Z" stroke-width="0.66" fill="#0b0b0b" />
<path d="M712.7 610 L718.2 626.5 Q717.5 630 713.3 630.1 Q710.3 629.8 708.6 627.5" stroke-width="1.32" fill="none" />
<path d="M709 628.3 C706.5 644 703.6 670 703.1 706" stroke-width="1.32" fill="none" />
<line x1="703.3" y1="590" x2="703.3" y2="705" stroke-width="1.32" />
<circle cx="692" cy="780.8" r="17" stroke-width="2.31" fill="#fff"/>
<line x1="692" y1="764" x2="692" y2="797.5" stroke-width="1.38" />
<path d="M685 764 L685 756.8 L698.3 756.8 L698.3 764" stroke-width="1.32" fill="none" />
<line x1="678.5" y1="764.6" x2="705.5" y2="764.6" stroke-width="1.43" />
<line x1="679" y1="758" x2="679" y2="765" stroke-width="1.76" />
<path d="M682 795.5 Q692 801.5 702 795.5" stroke-width="2.42" fill="none" />
<line x1="473" y1="1343.7" x2="646" y2="1343.7" stroke-width="1.32" />
<text x="474.8" y="1562" font-size="11.5" font-family='"Liberation Serif",serif' text-anchor="start" fill="#0b0b0b" stroke="none" transform="rotate(-90 474.8 1562)" >800~1100</text>
<line x1="593" y1="1334.7" x2="658" y2="1334.7" stroke-width="1.32" />
<line x1="593" y1="1352.5" x2="658" y2="1352.5" stroke-width="1.32" />
<line x1="595.8" y1="1334.7" x2="595.8" y2="1467.5" stroke-width="1.38" />
<path d="M595.8 1334.7 L596.8 1339.7 L594.8 1339.7 Z" fill="#0b0b0b" stroke="none"/>
<path d="M595.8 1352.5 L594.8 1347.5 L596.8 1347.5 Z" fill="#0b0b0b" stroke="none"/>
<line x1="626.7" y1="1334.7" x2="626.7" y2="1352.5" stroke-width="1.38" />
<line x1="626.7" y1="1343.7" x2="648" y2="1343.7" stroke-width="1.38" />
<text x="594" y="1466.8" font-size="11" font-family='"Liberation Serif",serif' text-anchor="start" fill="#0b0b0b" stroke="none" transform="rotate(-90 594 1466.8)" >2−<tspan font-family="Liberation Sans,sans-serif" font-weight="bold" font-size="10.3">G1/2</tspan></text>
<path d="M645.3 1313.3 C652 1313.3 658.3 1320 658.3 1330 L658.3 1357 C658.3 1367 652 1373.3 645.3 1373.3 Z" stroke-width="1.54" fill="none" />
<line x1="649.2" y1="1314" x2="649.2" y2="1372.6" stroke-width="1.32" />
<line x1="658.3" y1="1329.6" x2="658.3" y2="1357.6" stroke-width="1.32" />
<line x1="658.3" y1="1329.8" x2="673.2" y2="1329.8" stroke-width="1.54" />
<line x1="658.3" y1="1334.42" x2="673.2" y2="1334.42" stroke-width="1.54" />
<line x1="658.3" y1="1339.04" x2="673.2" y2="1339.04" stroke-width="1.54" />
<line x1="658.3" y1="1343.66" x2="673.2" y2="1343.66" stroke-width="1.54" />
<line x1="658.3" y1="1348.28" x2="673.2" y2="1348.28" stroke-width="1.54" />
<line x1="658.3" y1="1352.9" x2="673.2" y2="1352.9" stroke-width="1.54" />
<line x1="658.3" y1="1357.52" x2="673.2" y2="1357.52" stroke-width="1.54" />
<path d="M679.6 1251.8 L704.8 1251.8" stroke-width="2.31" fill="none" />
<path d="M680 1251.8 Q678.7 1252.5 678.8 1255 L678.8 1265 Q678.8 1267 680 1267.6 M704.4 1251.8 Q705.6 1252.5 705.5 1255 L705.5 1265 Q705.5 1267 704.4 1267.6" stroke-width="1.43" fill="none" />
<line x1="678.8" y1="1258.9" x2="705.5" y2="1258.9" stroke-width="1.43" />
<line x1="679.4" y1="1267.6" x2="704.9" y2="1267.6" stroke-width="2.09" />
<path d="M687.8 1258.9 L687.8 1257 Q691.9 1251.5 696 1257 L696 1258.9" stroke-width="1.43" fill="none" />
<line x1="679.5" y1="1267.6" x2="679.5" y2="1324.5" stroke-width="1.43" />
<path d="M704.8 1267.6 L704 1270.2 L707.4 1273.9 L718.2 1273.9" stroke-width="1.43" fill="none" />
<path d="M704 1270.2 L695.8 1277.8" stroke-width="1.43" fill="none" />
<path d="M707.4 1273.9 L699 1282.6" stroke-width="1.43" fill="none" />
<path d="M704.8 1324.5 L704.8 1301.8 L707.4 1298.1 L718.2 1298.1" stroke-width="1.43" fill="none" />
<path d="M704.8 1301.8 L696.5 1293.5" stroke-width="1.43" fill="none" />
<path d="M707.4 1298.1 L699 1290.2" stroke-width="1.43" fill="none" />
<path d="M718.4 1270.4 L738.2 1270.4 Q740.2 1270.6 740.2 1272.8 L740.2 1299.2 L718.4 1299.2 Z" stroke-width="1.54" fill="none" />
<line x1="719.2" y1="1270.4" x2="719.2" y2="1299.2" stroke-width="2.42" />
<line x1="720" y1="1272" x2="739" y2="1272" stroke-width="2.42" />
<line x1="720" y1="1274.9" x2="740" y2="1274.9" stroke-width="1.1" />
<line x1="720" y1="1289.3" x2="740" y2="1289.3" stroke-width="1.54" />
<line x1="722" y1="1292.7" x2="738.5" y2="1292.7" stroke-width="1.76" />
<line x1="720" y1="1296" x2="740" y2="1296" stroke-width="1.43" />
<path d="M681.6 1281 Q682.5 1273.5 690.5 1272.8" stroke-width="1.65" fill="none" />
<circle cx="689.4" cy="1286" r="7.5" stroke-width="3.19" fill="#fff"/>
<path d="M673.3 1324.7 L732.5 1324.7 M738.75 1324.3 L757.5 1324.3 L757.5 1345.8 L750.8 1345.8" stroke-width="1.76" fill="none" />
<line x1="732.5" y1="1324.7" x2="738.75" y2="1324.3" stroke-width="1.43" />
<path d="M673.3 1324.7 L673.3 1361.7 L750 1361.9" stroke-width="1.76" fill="none" />
<ellipse cx="681.9" cy="1343.2" rx="1.9" ry="17.3" stroke-width="1.32" fill="none"/>
<path d="M682 1326 C691 1327 696.3 1334 696.3 1343.3 C696.3 1352.5 691 1359.5 682 1360.3" stroke-width="1.54" fill="none" />
<path d="M692.5 1325.3 C701 1327 705.8 1334 705.8 1343.3 C705.8 1352.5 701 1360 692.5 1361.5" stroke-width="1.54" fill="none" />
<path d="M738.75 1324.3 L730 1343.3 L730.4 1361.9" stroke-width="1.65" fill="none" />
<path d="M732.5 1325 L737 1326.3 L733.3 1336.5 Z" stroke-width="1.1" fill="none" />
<path d="M750.8 1345.8 L748.4 1361.8" stroke-width="1.43" fill="none" />
<path d="M750.7 1361.8 L750.7 1430 L753 1432.8 L755 1432.8 L757.2 1420 Q757.9 1390 757.5 1345.8" stroke-width="1.43" fill="none" />
<path d="M752.5 1346.5 L752.5 1426 L753.6 1432" stroke-width="1.21" fill="none" />
<path d="M755.3 1350 Q756.6 1390 755.3 1424 L754.4 1432" stroke-width="1.21" fill="none" />
<line x1="683.2" y1="1293" x2="683.2" y2="1590" stroke-width="1.32" />
<line x1="695.5" y1="1293" x2="695.5" y2="1590" stroke-width="1.32" />
<path d="M683.2 1590 A6.15 6.6 0 0 0 695.5 1590" stroke-width="1.32" fill="none" />
<path d="M680 1362.5 C680 1370.13 680 1400.67 680 1408.3" stroke-width="1.43" fill="none" />
<line x1="704.2" y1="1362.5" x2="704.2" y2="1408.3" stroke-width="1.43" />
<line x1="680" y1="1408.3" x2="704.2" y2="1408.3" stroke-width="1.32" />
<path d="M680 1408.3 C680.17 1409.92 680.17 1414.67 681 1418 C681.83 1421.33 683.5 1425.22 685 1428.3 C686.5 1431.38 688.05 1434 690 1436.5 C691.95 1439 694.53 1441.45 696.7 1443.3 C698.87 1445.15 700.78 1446.35 703 1447.6 C705.22 1448.85 707.17 1449.85 710 1450.8 C712.83 1451.75 718.33 1452.88 720 1453.3" stroke-width="1.43" fill="none" />
<path d="M720 1453.3 L765.4 1460" stroke-width="1.43" fill="none" />
<path d="M765.4 1460 C766.72 1460.42 771 1461.25 773.3 1462.5 C775.6 1463.75 777.53 1465.55 779.2 1467.5 C780.87 1469.45 782.33 1472.25 783.3 1474.2 C784.27 1476.15 784.72 1478.37 785 1479.2" stroke-width="1.43" fill="none" />
<path d="M704.2 1408.3 C704.33 1409.33 704.45 1412.55 705 1414.5 C705.55 1416.45 706.5 1418.38 707.5 1420 C708.5 1421.62 709.75 1422.95 711 1424.2 C712.25 1425.45 713.67 1426.62 715 1427.5 C716.33 1428.38 717.62 1428.95 719 1429.5 C720.38 1430.05 722.58 1430.58 723.3 1430.8" stroke-width="1.43" fill="none" />
<path d="M723.3 1430.8 L769.2 1436.7" stroke-width="1.43" fill="none" />
<path d="M769.2 1436.7 C770.58 1437.05 774.87 1437.83 777.5 1438.8 C780.13 1439.77 782.58 1440.97 785 1442.5 C787.42 1444.03 789.78 1445.92 792 1448 C794.22 1450.08 796.47 1452.58 798.3 1455 C800.13 1457.42 801.6 1460 803 1462.5 C804.4 1465 805.67 1467.58 806.7 1470 C807.73 1472.42 808.78 1475.83 809.2 1477" stroke-width="1.43" fill="none" />
<line x1="723.3" y1="1430.8" x2="720" y2="1453.3" stroke-width="1.32" />
<line x1="769.2" y1="1436.3" x2="765.4" y2="1460" stroke-width="1.32" />
<path d="M785.2 1479.3 L809.2 1476.3 L808.9 1484.7 L787.6 1487.6 Z" stroke-width="1.43" fill="#fff" />
<path d="M785.3 1479.8 L809.2 1476.8" stroke-width="2.2" fill="none" />
<path d="M785.6 1480.5 L790.8 1479.9 L792.3 1486.8 L787.7 1487.4 Z" stroke-width="0.55" fill="#0b0b0b" />
<path d="M803.5 1478.3 L809 1477.6 L808.9 1484.5 L804.5 1485.2 Z" stroke-width="0.55" fill="#0b0b0b" />
<path d="M791 1483.2 L804 1481.5" stroke-width="1.32" fill="none" />
<path d="M794 1485 L802 1484 L801.8 1482.4 L793.8 1483.4 Z" stroke-width="0.99" fill="none" />
<path d="M787.6 1487.4 L808.9 1484.6" stroke-width="1.87" fill="none" />
</g>
</svg></body></html>
